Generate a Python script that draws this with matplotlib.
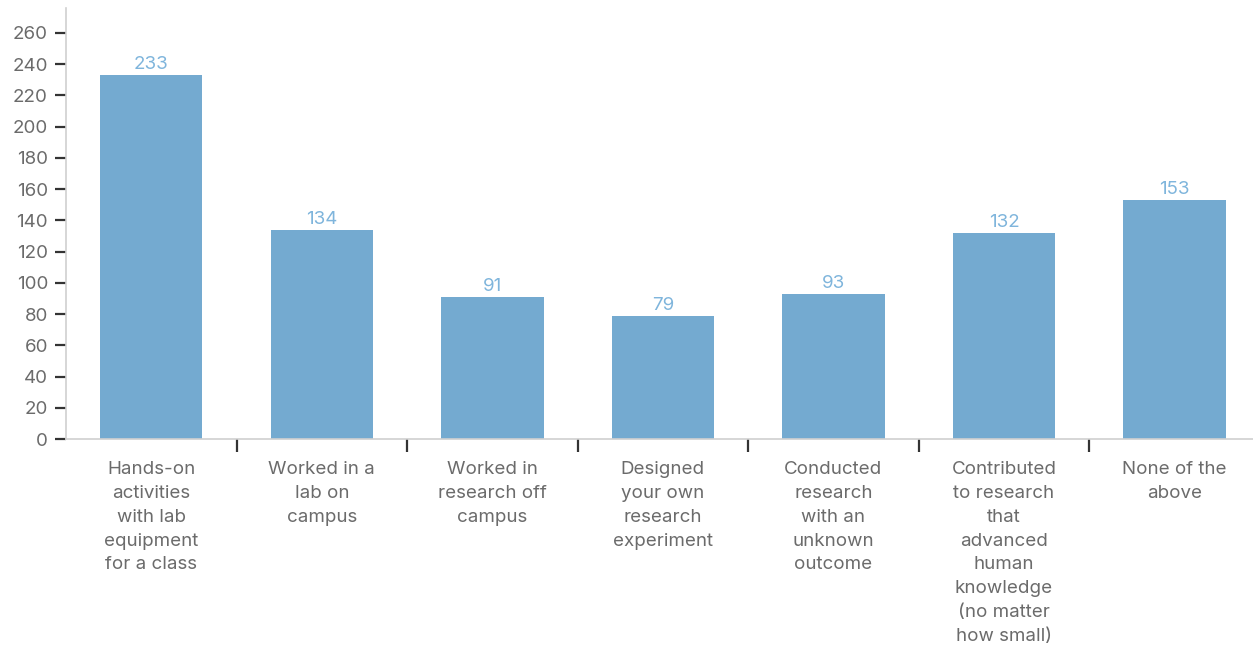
import matplotlib
matplotlib.use("Agg")
import matplotlib.pyplot as plt
from matplotlib.ticker import FixedLocator

categories = [
    "Hands-on\nactivities\nwith lab\nequipment\nfor a class",
    "Worked in a\nlab on\ncampus",
    "Worked in\nresearch off\ncampus",
    "Designed\nyour own\nresearch\nexperiment",
    "Conducted\nresearch\nwith an\nunknown\noutcome",
    "Contributed\nto research\nthat\nadvanced\nhuman\nknowledge\n(no matter\nhow small)",
    "None of the\nabove",
]
counts = [233, 134, 91, 79, 93, 132, 153]

bar_color = "#74aad0"
label_color = "#7fb5dc"
text_color = "#6b6b6b"
spine_color = "#d0d0d0"

plt.rcParams["font.family"] = ["Inter", "DejaVu Sans"]

fig = plt.figure(figsize=(12.53, 6.45), dpi=100)
W, H = 1253, 645
ax = fig.add_axes([66 / W, (H - 439) / H, (W - 66) / W, (439 - 8) / H])

x = list(range(len(categories)))
ax.bar(x, counts, width=0.6, color=bar_color, zorder=2)

for xi, v in zip(x, counts):
    ax.annotate(str(v), (xi, v), xytext=(0, 1.5), textcoords="offset points",
                ha="center", va="bottom", fontsize=13.5, color=label_color)

ax.set_xlim(-0.5, 6.46)
ax.set_ylim(0, 276)

ax.set_yticks(range(0, 261, 20))
ax.tick_params(axis="y", length=8, width=1.6, color="#333333", pad=5,
               labelsize=13.5, labelcolor=text_color)

ax.set_xticks(x)
ax.set_xticklabels(categories, fontsize=13.5, color=text_color, linespacing=1.52,
                   va="top")
ax.tick_params(axis="x", which="major", length=0, pad=16)
ax.xaxis.set_minor_locator(FixedLocator([i + 0.5 for i in range(len(categories) - 1)]))
ax.tick_params(axis="x", which="minor", length=9, width=1.6, color="#333333",
               direction="out")

for side in ("top", "right"):
    ax.spines[side].set_visible(False)
for side in ("left", "bottom"):
    ax.spines[side].set_color(spine_color)
    ax.spines[side].set_linewidth(1.2)

fig.savefig("out.png", dpi=100)
